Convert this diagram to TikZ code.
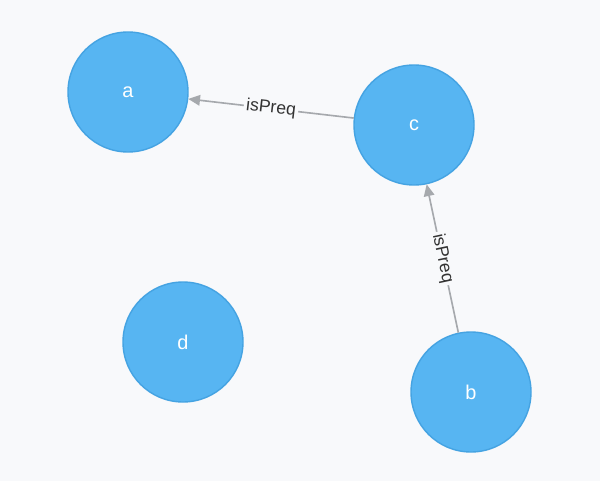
\documentclass[tikz,border=0pt]{standalone}
\usepackage{fontspec}
\setmainfont{Liberation Sans}
\usepackage{tikz}
\usetikzlibrary{arrows.meta}

\definecolor{pagebg}{HTML}{F8F9FB}
\definecolor{ballfill}{HTML}{57B5F2}
\definecolor{balledge}{HTML}{45A3E2}
\definecolor{relgray}{HTML}{A6A9AD}

\tikzset{
  ball/.style={circle,fill=ballfill,draw=balledge,line width=1.2pt,
    minimum size=3.6cm,inner sep=0pt,text=white,font=\fontsize{17}{17}\selectfont},
  rel/.style={draw=relgray,line width=1.4pt,->},
  rellabel/.style={fill=pagebg,inner sep=2pt,sloped,text=black!80,
    font=\fontsize{15}{15}\selectfont}
}

\begin{document}
\begin{tikzpicture}[x=0.03cm,y=-0.03cm,>={Triangle[length=10pt,width=9pt]}]
  % canvas
  \fill[pagebg] (0,0) rectangle (600,481);
  \useasboundingbox (0,0) rectangle (600,481);
  % concepts
  \node[ball] (a) at (128,92) {a};
  \node[ball] (c) at (414,125) {c};
  \node[ball] (d) at (183,342) {d};
  \node[ball] (b) at (471,392) {b};
  % prerequisites
  \draw[rel] (c) -- node[rellabel] {isPreq} (a);
  \draw[rel] (b) -- node[rellabel] {isPreq} (c);
\end{tikzpicture}
\end{document}
